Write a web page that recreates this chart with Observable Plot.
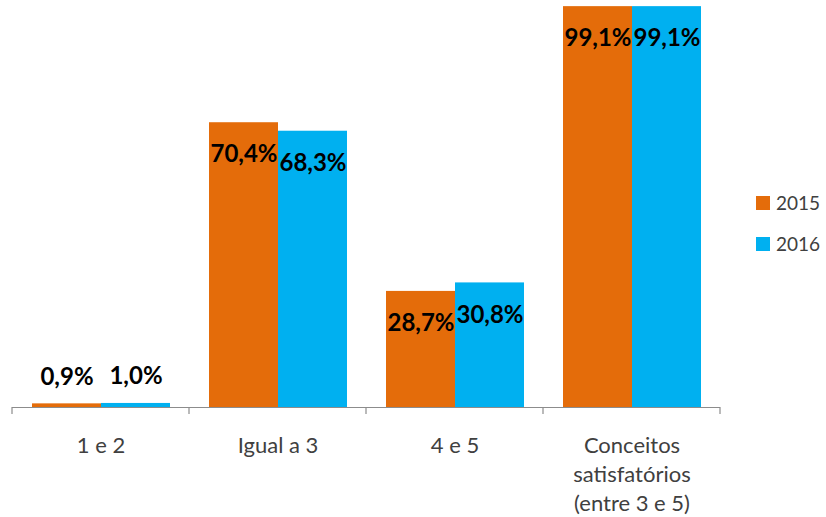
<!DOCTYPE html>
<html>
<head>
<meta charset="utf-8">
<script src="https://cdn.jsdelivr.net/npm/d3@7"></script>
<script src="https://cdn.jsdelivr.net/npm/@observablehq/plot@0.6"></script>
<style>
  html, body { margin: 0; padding: 0; background: #fff; }
  #chart { width: 826px; height: 517px; }
</style>
</head>
<body>
<div id="chart"></div>
<script>
const categories = ["1 e 2", "Igual a 3", "4 e 5", "Conceitos\nsatisfatórios\n(entre 3 e 5)"];
const years = ["2015", "2016"];
const values2015 = [0.9, 70.4, 28.7, 99.1];
const values2016 = [1.0, 68.3, 30.8, 99.1];
const colors = ["#E46C0A", "#00B0F0"];

const data = [];
categories.forEach((c, i) => {
  data.push({category: c, year: years[0], value: values2015[i]});
  data.push({category: c, year: years[1], value: values2016[i]});
});
const fmt = v => d3.format(".1f")(v).replace(".", ",") + "%";
const font = "Lato, 'Open Sans', sans-serif";

const chart = Plot.plot({
  width: 826,
  height: 517,
  marginLeft: 12,
  marginRight: 106,
  marginTop: 2.5,
  marginBottom: 110,
  style: {fontFamily: font, background: "#fff", overflow: "visible"},
  fx: {domain: categories, padding: 0, axis: null},
  x: {domain: years, paddingInner: 0, paddingOuter: 0.28, axis: null},
  y: {domain: [0, 100], axis: null},
  color: {domain: years, range: colors},
  marks: [
    Plot.barY(data, {fx: "category", x: "year", y: "value", fill: "year"}),
    Plot.ruleY([0], {stroke: "#8c8c8c", strokeWidth: 1.2}),
    Plot.text(data.filter(d => d.value > 5), {
      fx: "category", x: "year", y: "value", text: d => fmt(d.value),
      dy: 32, fontSize: 24, fontWeight: "bold", fill: "#000", lineAnchor: "middle"
    }),
    Plot.text(data.filter(d => d.value <= 5), {
      fx: "category", x: "year", y: "value", text: d => fmt(d.value),
      dy: -27, fontSize: 24, fontWeight: "bold", fill: "#000", lineAnchor: "middle"
    }),
    Plot.text(categories, {
      fx: d => d, text: d => d, frameAnchor: "bottom", lineAnchor: "top",
      dy: 25, fontSize: 22, lineHeight: 1.32, fill: "#404040"
    })
  ]
});
document.getElementById("chart").appendChild(chart);

// boundary tick marks under the category axis, from the fx and y scales
const svg = d3.select(chart);
const fxScale = chart.scale("fx");
const yScale = chart.scale("y");
const [r0, r1] = fxScale.range;
const step = (r1 - r0) / categories.length;
const y0 = yScale.apply(0);
for (let i = 0; i <= categories.length; i++) {
  svg.append("line")
    .attr("x1", r0 + i * step).attr("x2", r0 + i * step)
    .attr("y1", y0).attr("y2", y0 + 7)
    .attr("stroke", "#8c8c8c").attr("stroke-width", 1.2);
}

// legend
const colorScale = chart.scale("color");
const lg = svg.append("g").attr("transform", "translate(756,196)");
years.forEach((yr, i) => {
  const g = lg.append("g").attr("transform", `translate(0,${i * 41})`);
  g.append("rect").attr("width", 14).attr("height", 14).attr("fill", colorScale.apply(yr));
  g.append("text").attr("transform", "translate(20,7)").attr("dy", "0.36em")
    .attr("text-anchor", "start")
    .style("font-size", "19px").style("font-family", font).style("fill", "#404040").text(yr);
});
</script>
</body>
</html>
